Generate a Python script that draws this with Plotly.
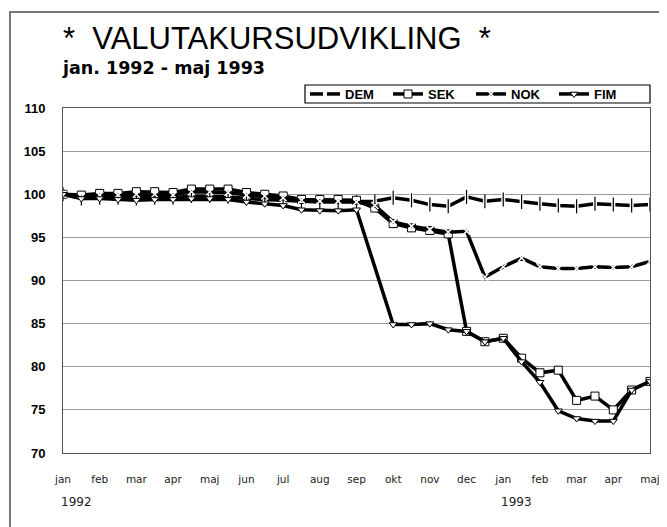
import plotly.graph_objects as go

# half-monthly observations, jan 1992 -> maj 1993 (index 1992-01 = 100)
MONTHS = ["jan", "feb", "mar", "apr", "maj", "jun", "jul", "aug", "sep",
          "okt", "nov", "dec", "jan", "feb", "mar", "apr", "maj"]
YEARS = ["1992", "1993"]

DEM = [100.0, 99.5, 99.6, 99.6, 99.5, 99.6, 99.6, 99.8, 99.8, 99.7, 99.5,
       99.4, 99.3, 99.1, 99.1, 99.1, 99.1, 99.2, 99.6, 99.3, 98.8, 98.6,
       99.7, 99.2, 99.4, 99.1, 98.9, 98.7, 98.6, 98.9, 98.8, 98.7, 98.8]
SEK = [100.0, 99.9, 100.1, 100.1, 100.3, 100.3, 100.2, 100.6, 100.6, 100.6,
       100.2, 100.0, 99.8, 99.4, 99.4, 99.4, 99.3, 98.4, 96.6, 96.1, 95.8,
       95.4, 84.1, 82.9, 83.3, 81.0, 79.3, 79.6, 76.1, 76.6, 75.0, 77.3, 78.3]
NOK = [100.0, 99.7, 99.9, 99.9, 100.0, 100.0, 99.9, 100.3, 100.3, 100.2,
       99.9, 99.8, 99.6, 99.3, 99.2, 99.2, 99.1, 98.7, 96.8, 96.3, 95.9,
       95.6, 95.7, 90.4, 91.6, 92.6, 91.6, 91.4, 91.4, 91.6, 91.5, 91.6, 92.2]
FIM = [100.0, 99.5, 99.5, 99.4, 99.3, 99.4, 99.4, 99.5, 99.5, 99.4, 99.1,
       98.9, 98.7, 98.2, 98.1, 98.1, 98.2, None, 84.9, 84.9, 85.0, 84.3,
       84.1, 82.9, 83.3, 80.6, 78.2, 74.9, 74.0, 73.7, 73.7, 77.3, 78.3]

x = [i / 2 for i in range(len(DEM))]

# window pixel geometry; the page body adds an 8px margin
OFF = 8
L, R, T, B = 63, 650, 108, 453
W, H = 667, 527


def px(p):
    return (p - L) / (R - L)


def py(p):
    return (B - p) / (B - T)


series = [
    ("DEM", DEM, dict(symbol="line-ns-open", size=9, color="white",
                      line=dict(color="white", width=4))),
    ("SEK", SEK, dict(symbol="square", size=8, color="white",
                      line=dict(color="black", width=1))),
    ("NOK", NOK, dict(symbol="x-thin-open", size=7, color="white",
                      line=dict(color="white", width=1.5))),
    ("FIM", FIM, dict(symbol="triangle-down", size=7, color="white",
                      line=dict(color="black", width=1))),
]

fig = go.Figure()
for name, vals, mk in series:
    fig.add_trace(go.Scatter(
        x=x, y=vals, mode="lines+markers", name=name,
        line=dict(color="black", width=3.5),
        marker=mk, connectgaps=True
    ))
    if name == "DEM":
        # black tick inside the white gap
        fig.add_trace(go.Scatter(
            x=x, y=vals, mode="markers", showlegend=False,
            marker=dict(symbol="line-ns-open", size=10, color="black",
                        line=dict(color="black", width=1.2))
        ))

fig.update_xaxes(
    range=[0, 16], tickvals=list(range(len(MONTHS))), ticktext=MONTHS,
    showgrid=False, zeroline=False,
    showline=True, linecolor="#555", linewidth=1, mirror=True,
    ticks="", ticklabelstandoff=16,
    tickfont=dict(family="DejaVu Sans", size=10.5, color="#222")
)
fig.update_yaxes(
    range=[70, 110], dtick=5,
    showgrid=True, gridcolor="#9a9a9a", gridwidth=1, zeroline=False,
    showline=True, linecolor="#555", linewidth=1, mirror=True,
    ticks="", ticklabelstandoff=14,
    tickfont=dict(family="Liberation Sans", size=13, color="black", weight="bold")
)

# year labels under the month axis
for xi, yr in zip([0, 12], YEARS):
    fig.add_annotation(
        x=xi, y=py(502), xref="x", yref="paper", text=yr,
        showarrow=False, xanchor="left", yanchor="middle", xshift=-4,
        font=dict(family="DejaVu Sans", size=12, color="#222")
    )

fig.add_annotation(
    x=px(61), y=py(38), xref="paper", yref="paper",
    text="*  VALUTAKURSUDVIKLING  *", showarrow=False,
    xanchor="left", yanchor="middle",
    font=dict(family="Liberation Sans", size=31, color="black")
)
fig.add_annotation(
    x=px(60), y=py(68), xref="paper", yref="paper",
    text="jan. 1992 - maj 1993", showarrow=False,
    xanchor="left", yanchor="middle",
    font=dict(family="DejaVu Sans", size=17.5, color="black", weight="bold")
)

# legend frame
fig.add_shape(type="rect", xref="paper", yref="paper",
              x0=px(305), x1=px(650), y0=py(103), y1=py(85),
              line=dict(color="black", width=1.2), fillcolor="white", layer="below")

# scanned page frame (top and left edges)
fig.add_shape(type="rect", xref="paper", yref="paper",
              x0=px(10), x1=px(W + 30), y0=py(H + 30), y1=py(12),
              line=dict(color="#777", width=2), layer="below")

fig.update_layout(
    width=W - OFF, height=H - OFF,
    margin=dict(l=L - OFF, r=W - R, t=T - OFF, b=H - B, autoexpand=False),
    plot_bgcolor="white", paper_bgcolor="white",
    showlegend=True,
    legend=dict(
        orientation="h", x=px(305), y=py(94), xanchor="left", yanchor="middle",
        borderwidth=0, bgcolor="rgba(0,0,0,0)",
        font=dict(family="Liberation Sans", size=13, color="black", weight="bold"),
        itemwidth=30, entrywidth=38, entrywidthmode="pixels",
        tracegroupgap=0
    )
)

fig.write_html("out.html")
